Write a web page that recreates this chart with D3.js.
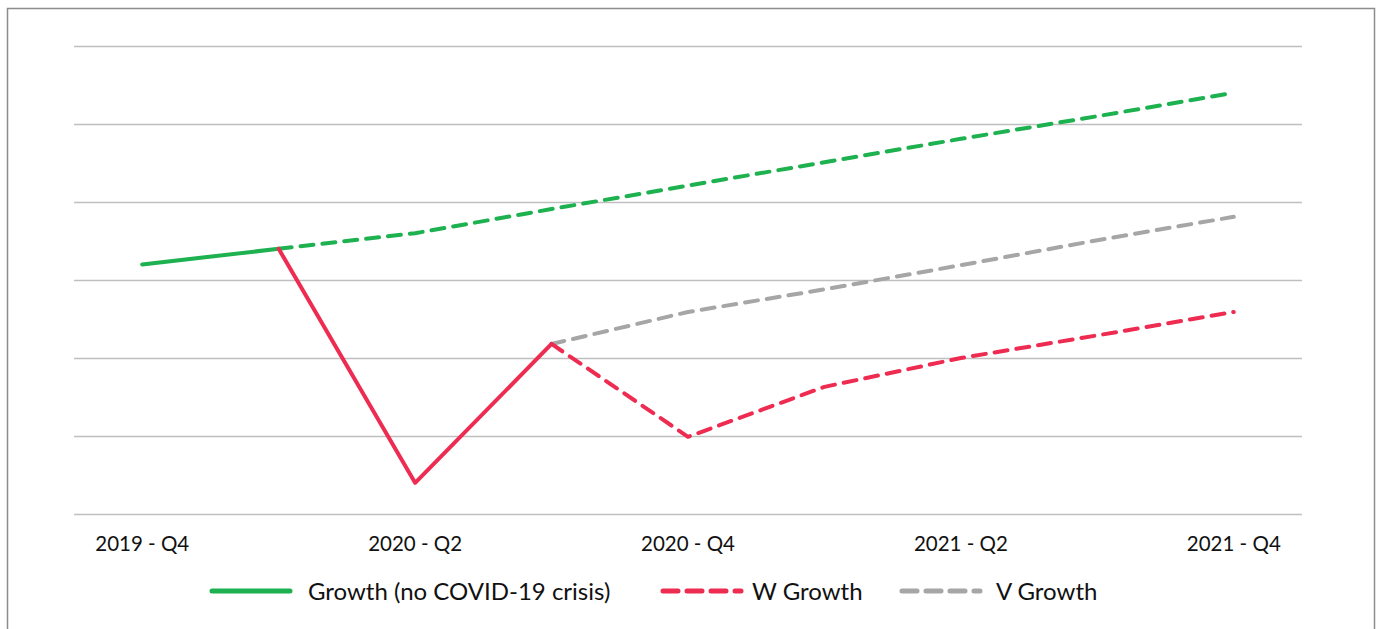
<!DOCTYPE html>
<html>
<head>
<meta charset="utf-8">
<script src="https://cdn.jsdelivr.net/npm/d3@7"></script>
<style>
  body { margin: 0; background: #fff; }
  svg text { font-family: "Source Sans Pro", Lato, "Noto Sans", sans-serif; fill: #111; }
</style>
</head>
<body>
<div id="chart"></div>
<script>
// Data
//= ================================
var quarters = ["2019 - Q4", "2020 - Q1", "2020 - Q2", "2020 - Q3", "2020 - Q4",
    "2021 - Q1", "2021 - Q2", "2021 - Q3", "2021 - Q4"];
var tickLabels = ["2019 - Q4", "2020 - Q2", "2020 - Q4", "2021 - Q2", "2021 - Q4"];

// one value per quarter (null means no point)
var growthActual = [3.2, 3.4, null, null, null, null, null, null, null];
var growthForecast = [null, 3.4, 3.6, 3.91, 4.21, 4.51, 4.81, 5.1, 5.4];
var wActual = [null, 3.4, 0.4, 2.18, null, null, null, null, null];
var wForecast = [null, null, null, 2.18, 0.99, 1.63, 2.0, 2.29, 2.59];
var vForecast = [null, null, null, 2.18, 2.59, 2.88, 3.19, 3.51, 3.81];

// Setup the chart
//= ================================
var svgWidth = 1377;
var svgHeight = 629;

var margin = { top: 46, right: 75, bottom: 115, left: 74 };
var width = svgWidth - margin.left - margin.right;
var height = svgHeight - margin.top - margin.bottom;

var svg = d3.select("#chart")
    .append("svg")
    .attr("width", svgWidth)
    .attr("height", svgHeight);

// outer frame
svg.append("rect")
    .attr("x", 7.5)
    .attr("y", 8.5)
    .attr("width", 1367)
    .attr("height", 640)
    .attr("fill", "none")
    .attr("stroke", "#8c8c8c")
    .attr("stroke-width", 1.5);

var chartGroup = svg.append("g")
    .attr("transform", `translate(${margin.left}, ${margin.top})`);

var xScale = d3.scaleBand()
    .domain(quarters)
    .range([0, width]);

var yScale = d3.scaleLinear()
    .domain([0, 6])
    .range([height, 0]);

// gridlines
var leftAxis = d3.axisLeft(yScale)
    .ticks(6)
    .tickSize(-width)
    .tickFormat("");

chartGroup.append("g")
    .call(leftAxis)
    .call(g => g.select(".domain").remove())
    .call(g => g.selectAll(".tick line")
        .attr("stroke", "#bfbfbf")
        .attr("stroke-width", 1.3));

// x axis labels
var bottomAxis = d3.axisBottom(xScale)
    .tickValues(tickLabels)
    .tickSize(0)
    .tickPadding(22);

chartGroup.append("g")
    .attr("transform", `translate(0, ${height})`)
    .call(bottomAxis)
    .call(g => g.select(".domain").remove())
    .call(g => g.selectAll("text")
        .attr("font-size", "20.5px")
        .attr("font-family", null));

// lines
var line = d3.line()
    .defined(d => d[1] !== null)
    .x(d => xScale(d[0]) + xScale.bandwidth() / 2)
    .y(d => yScale(d[1]));

function pairs(values) {
    return quarters.map((q, i) => [q, values[i]]);
}

var green = "#1db14f";
var red = "#ee2b50";
var grey = "#a6a6a6";
var dash = "13,9";

var series = [
    { values: growthForecast, color: green, dash: dash },
    { values: vForecast, color: grey, dash: dash },
    { values: wForecast, color: red, dash: dash },
    { values: growthActual, color: green, dash: null },
    { values: wActual, color: red, dash: null }
];

chartGroup.selectAll(".series")
    .data(series)
    .enter()
    .append("path")
    .attr("class", "series")
    .attr("d", d => line(pairs(d.values)))
    .attr("fill", "none")
    .attr("stroke", d => d.color)
    .attr("stroke-width", 4)
    .attr("stroke-linecap", "round")
    .attr("stroke-linejoin", "round")
    .attr("stroke-dasharray", d => d.dash);

// legend
var legendItems = [
    { label: "Growth (no COVID-19 crisis)", color: green, dash: null, x: 212, tx: 96 },
    { label: "W Growth", color: red, dash: dash, x: 663, tx: 89 },
    { label: "V Growth", color: grey, dash: dash, x: 902, tx: 94 }
];

var legend = svg.selectAll(".legend")
    .data(legendItems)
    .enter()
    .append("g")
    .attr("class", "legend")
    .attr("transform", d => `translate(${d.x}, 591)`);

legend.append("line")
    .attr("x1", 0)
    .attr("x2", 78)
    .attr("stroke", d => d.color)
    .attr("stroke-width", 5)
    .attr("stroke-linecap", "round")
    .attr("stroke-dasharray", d => d.dash ? "15,9" : null);

legend.append("text")
    .attr("x", d => d.tx)
    .attr("y", 9)
    .attr("font-size", "24px")
    .text(d => d.label);
</script>
</body>
</html>
